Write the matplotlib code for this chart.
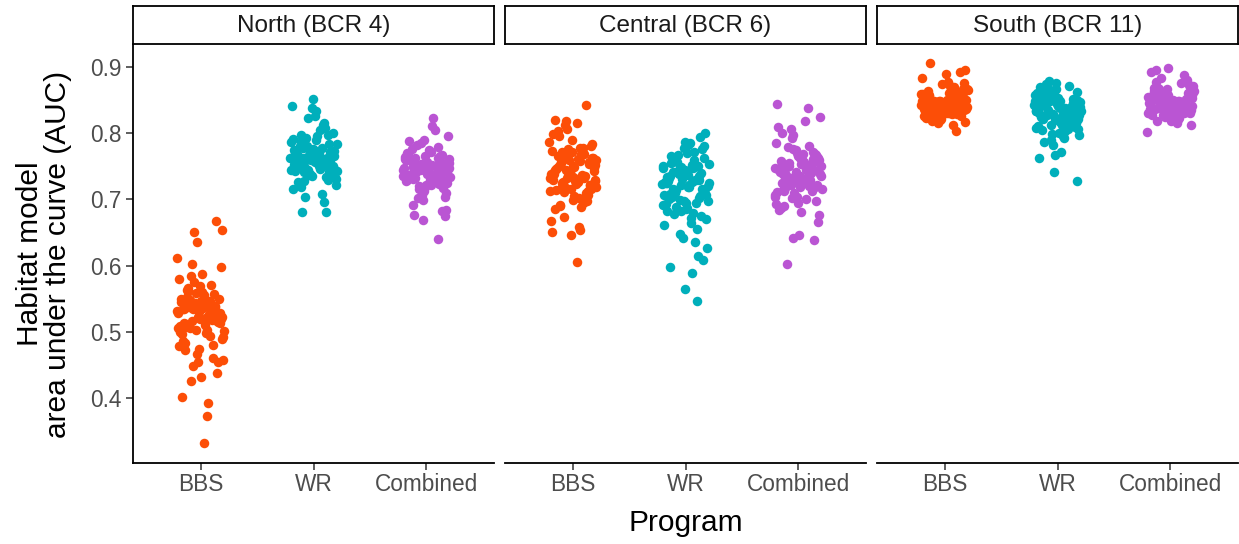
import matplotlib
matplotlib.use("Agg")
import matplotlib.pyplot as plt
import numpy as np

plt.rcParams['font.family'] = ['Liberation Sans', 'DejaVu Sans']

regions = ["North (BCR 4)", "Central (BCR 6)", "South (BCR 11)"]
programs = ["BBS", "WR", "Combined"]
colors = {"BBS": "#FC4E07", "WR": "#00AFBB", "Combined": "#BA55D3"}
yticks = [0.4, 0.5, 0.6, 0.7, 0.8, 0.9]

north_bbs = [0.532, 0.498, 0.561, 0.517, 0.474, 0.545, 0.528, 0.603, 0.489, 0.553, 0.512, 0.538, 0.467, 0.579, 0.524, 0.506, 0.549, 0.431, 0.535, 0.518,
             0.651, 0.492, 0.541, 0.563, 0.527, 0.455, 0.509, 0.547, 0.584, 0.519, 0.536, 0.483, 0.557, 0.502, 0.529, 0.373, 0.544, 0.515, 0.569, 0.496,
             0.531, 0.448, 0.522, 0.555, 0.507, 0.539, 0.635, 0.478, 0.526, 0.548, 0.513, 0.587, 0.534, 0.461, 0.543, 0.501, 0.521, 0.566, 0.437, 0.530,
             0.550, 0.494, 0.516, 0.598, 0.540, 0.472, 0.525, 0.558, 0.505, 0.392, 0.537, 0.520, 0.546, 0.486, 0.533, 0.575, 0.457, 0.511, 0.552, 0.667,
             0.523, 0.499, 0.542, 0.426, 0.528, 0.560, 0.514, 0.480, 0.537, 0.612, 0.503, 0.548, 0.454, 0.520, 0.401, 0.571, 0.535, 0.654, 0.332, 0.510]
north_wr = [0.765, 0.752, 0.781, 0.743, 0.770, 0.798, 0.759, 0.736, 0.774, 0.812, 0.748, 0.766, 0.789, 0.727, 0.757, 0.776, 0.744, 0.805, 0.762, 0.739,
            0.851, 0.771, 0.754, 0.793, 0.731, 0.768, 0.747, 0.784, 0.760, 0.716, 0.777, 0.742, 0.801, 0.756, 0.769, 0.734, 0.823, 0.763, 0.750, 0.786,
            0.740, 0.772, 0.758, 0.696, 0.779, 0.745, 0.795, 0.761, 0.730, 0.767, 0.841, 0.753, 0.783, 0.738, 0.774, 0.749, 0.808, 0.764, 0.722, 0.757,
            0.780, 0.741, 0.769, 0.791, 0.751, 0.728, 0.773, 0.833, 0.755, 0.762, 0.737, 0.787, 0.746, 0.681, 0.766, 0.776, 0.743, 0.815, 0.759, 0.733,
            0.770, 0.754, 0.797, 0.739, 0.763, 0.708, 0.778, 0.750, 0.826, 0.758, 0.681, 0.745, 0.784, 0.765, 0.719, 0.772, 0.838, 0.752, 0.761, 0.704]
north_comb = [0.742, 0.728, 0.756, 0.735, 0.763, 0.719, 0.748, 0.771, 0.731, 0.745, 0.712, 0.759, 0.738, 0.782, 0.724, 0.750, 0.737, 0.766, 0.706, 0.744,
              0.823, 0.733, 0.753, 0.721, 0.769, 0.740, 0.715, 0.757, 0.730, 0.776, 0.746, 0.699, 0.761, 0.727, 0.749, 0.684, 0.739, 0.788, 0.723, 0.754,
              0.734, 0.811, 0.744, 0.717, 0.765, 0.729, 0.751, 0.702, 0.741, 0.774, 0.736, 0.758, 0.713, 0.747, 0.726, 0.762, 0.675, 0.743, 0.732, 0.779,
              0.720, 0.755, 0.738, 0.692, 0.767, 0.745, 0.728, 0.805, 0.750, 0.709, 0.740, 0.760, 0.724, 0.785, 0.735, 0.752, 0.677, 0.742, 0.718, 0.770,
              0.731, 0.748, 0.795, 0.725, 0.757, 0.739, 0.669, 0.764, 0.733, 0.746, 0.704, 0.753, 0.737, 0.640, 0.744, 0.761, 0.722, 0.749, 0.683, 0.790]
central_bbs = [0.736, 0.712, 0.758, 0.724, 0.781, 0.699, 0.745, 0.768, 0.717, 0.752, 0.731, 0.795, 0.706, 0.741, 0.773, 0.688, 0.727, 0.762, 0.749, 0.714,
               0.843, 0.733, 0.786, 0.702, 0.755, 0.721, 0.771, 0.738, 0.694, 0.812, 0.747, 0.729, 0.765, 0.709, 0.739, 0.667, 0.778, 0.719, 0.753, 0.734,
               0.820, 0.701, 0.744, 0.760, 0.726, 0.690, 0.756, 0.716, 0.799, 0.737, 0.673, 0.763, 0.728, 0.748, 0.710, 0.776, 0.732, 0.659, 0.757, 0.722,
               0.790, 0.742, 0.696, 0.766, 0.730, 0.815, 0.751, 0.713, 0.740, 0.650, 0.769, 0.725, 0.784, 0.705, 0.746, 0.735, 0.807, 0.718, 0.761, 0.692,
               0.754, 0.646, 0.730, 0.777, 0.711, 0.743, 0.723, 0.803, 0.698, 0.759, 0.738, 0.654, 0.772, 0.715, 0.750, 0.685, 0.733, 0.819, 0.728, 0.606]
central_wr = [0.718, 0.735, 0.702, 0.749, 0.691, 0.727, 0.761, 0.710, 0.744, 0.683, 0.730, 0.767, 0.697, 0.721, 0.755, 0.675, 0.739, 0.706, 0.772, 0.714,
              0.801, 0.687, 0.733, 0.751, 0.699, 0.725, 0.664, 0.742, 0.716, 0.778, 0.693, 0.729, 0.757, 0.670, 0.737, 0.708, 0.794, 0.722, 0.748, 0.680,
              0.712, 0.763, 0.695, 0.732, 0.656, 0.745, 0.720, 0.785, 0.703, 0.740, 0.641, 0.726, 0.759, 0.689, 0.716, 0.770, 0.700, 0.736, 0.648, 0.723,
              0.752, 0.678, 0.711, 0.787, 0.734, 0.694, 0.743, 0.626, 0.719, 0.765, 0.705, 0.731, 0.661, 0.747, 0.709, 0.780, 0.686, 0.728, 0.615, 0.738,
              0.754, 0.672, 0.715, 0.776, 0.698, 0.724, 0.636, 0.741, 0.707, 0.782, 0.598, 0.730, 0.682, 0.750, 0.589, 0.713, 0.609, 0.565, 0.724, 0.547]
central_comb = [0.748, 0.733, 0.762, 0.719, 0.755, 0.741, 0.776, 0.707, 0.752, 0.728, 0.767, 0.694, 0.745, 0.781, 0.722, 0.739, 0.758, 0.713, 0.771, 0.736,
                0.844, 0.700, 0.750, 0.764, 0.726, 0.687, 0.743, 0.792, 0.716, 0.757, 0.731, 0.769, 0.703, 0.746, 0.838, 0.724, 0.760, 0.681, 0.738, 0.754,
                0.710, 0.785, 0.729, 0.749, 0.697, 0.766, 0.742, 0.720, 0.806, 0.735, 0.759, 0.690, 0.744, 0.774, 0.711, 0.732, 0.751, 0.666, 0.763, 0.725,
                0.740, 0.797, 0.704, 0.756, 0.737, 0.719, 0.770, 0.684, 0.747, 0.727, 0.825, 0.753, 0.714, 0.761, 0.734, 0.693, 0.744, 0.779, 0.721, 0.646,
                0.758, 0.730, 0.702, 0.750, 0.768, 0.717, 0.639, 0.742, 0.810, 0.726, 0.755, 0.676, 0.736, 0.800, 0.712, 0.642, 0.748, 0.819, 0.602, 0.760]
south_bbs = [0.846, 0.832, 0.858, 0.840, 0.825, 0.851, 0.837, 0.864, 0.829, 0.848, 0.842, 0.871, 0.818, 0.855, 0.835, 0.844, 0.861, 0.827, 0.850, 0.838,
             0.906, 0.845, 0.822, 0.857, 0.834, 0.849, 0.866, 0.830, 0.843, 0.853, 0.815, 0.839, 0.860, 0.847, 0.826, 0.874, 0.836, 0.852, 0.841, 0.895,
             0.831, 0.856, 0.844, 0.820, 0.849, 0.868, 0.833, 0.854, 0.840, 0.823, 0.862, 0.845, 0.837, 0.878, 0.828, 0.851, 0.842, 0.859, 0.812, 0.847,
             0.835, 0.889, 0.852, 0.830, 0.843, 0.865, 0.839, 0.824, 0.855, 0.846, 0.833, 0.870, 0.841, 0.817, 0.850, 0.857, 0.836, 0.848, 0.883, 0.829,
             0.845, 0.861, 0.838, 0.853, 0.803, 0.842, 0.867, 0.831, 0.849, 0.892, 0.844, 0.826, 0.856, 0.839, 0.876, 0.847, 0.834, 0.852, 0.821, 0.859]
south_wr = [0.832, 0.815, 0.847, 0.823, 0.856, 0.808, 0.838, 0.827, 0.862, 0.801, 0.843, 0.819, 0.851, 0.834, 0.796, 0.841, 0.825, 0.867, 0.811, 0.836,
            0.879, 0.821, 0.848, 0.805, 0.839, 0.829, 0.858, 0.793, 0.844, 0.817, 0.853, 0.830, 0.872, 0.812, 0.840, 0.826, 0.787, 0.846, 0.822, 0.860,
            0.809, 0.835, 0.850, 0.818, 0.864, 0.831, 0.799, 0.842, 0.824, 0.855, 0.814, 0.876, 0.837, 0.806, 0.849, 0.828, 0.772, 0.845, 0.820, 0.859,
            0.833, 0.803, 0.852, 0.816, 0.841, 0.870, 0.826, 0.790, 0.847, 0.813, 0.857, 0.835, 0.767, 0.843, 0.823, 0.865, 0.807, 0.838, 0.854, 0.819,
            0.782, 0.848, 0.830, 0.874, 0.810, 0.844, 0.762, 0.827, 0.861, 0.798, 0.839, 0.821, 0.851, 0.741, 0.834, 0.815, 0.868, 0.728, 0.842, 0.825]
south_comb = [0.847, 0.833, 0.859, 0.841, 0.826, 0.852, 0.838, 0.866, 0.830, 0.849, 0.843, 0.873, 0.819, 0.856, 0.836, 0.845, 0.862, 0.828, 0.851, 0.839,
              0.898, 0.846, 0.823, 0.858, 0.835, 0.850, 0.868, 0.831, 0.844, 0.854, 0.816, 0.840, 0.861, 0.848, 0.827, 0.876, 0.837, 0.853, 0.842, 0.895,
              0.832, 0.857, 0.845, 0.821, 0.850, 0.870, 0.834, 0.855, 0.841, 0.824, 0.864, 0.846, 0.838, 0.880, 0.829, 0.852, 0.843, 0.860, 0.813, 0.848,
              0.836, 0.888, 0.853, 0.831, 0.844, 0.867, 0.840, 0.825, 0.856, 0.847, 0.834, 0.871, 0.842, 0.818, 0.851, 0.858, 0.837, 0.849, 0.884, 0.830,
              0.846, 0.863, 0.839, 0.854, 0.802, 0.843, 0.869, 0.832, 0.850, 0.893, 0.845, 0.827, 0.857, 0.840, 0.877, 0.848, 0.835, 0.853, 0.822, 0.860]

data = {
    "North (BCR 4)": {"BBS": north_bbs, "WR": north_wr, "Combined": north_comb},
    "Central (BCR 6)": {"BBS": central_bbs, "WR": central_wr, "Combined": central_comb},
    "South (BCR 11)": {"BBS": south_bbs, "WR": south_wr, "Combined": south_comb},
}

W, H = 1239, 544
fig = plt.figure(figsize=(W / 100, H / 100), dpi=100)


def rect(x0, x1, y0, y1):
    return [x0 / W, 1 - y1 / H, (x1 - x0) / W, (y1 - y0) / H]


panel_x = [(133, 494), (505, 866), (877, 1238)]
ptop, pbot = 45, 463
stop = 6
jit_half = 0.21
tick_col = "#4D4D4D"

for pi, reg in enumerate(regions):
    x0, x1 = panel_x[pi]
    ax = fig.add_axes(rect(x0, x1, ptop, pbot))
    for gi, prog in enumerate(programs):
        vals = np.asarray(data[reg][prog])
        n = len(vals)
        k = np.arange(n)
        offs = ((k * 0.6180339887 + 0.137 * (gi + 3 * pi)) % 1.0 - 0.5) * 2 * jit_half
        ax.scatter(gi + offs, vals, s=47, color=colors[prog], linewidths=0, zorder=3)
    ax.set_xlim(-0.6, 2.6)
    ax.set_ylim(0.3018, 0.9332)
    ax.set_xticks(range(3))
    ax.set_xticklabels(programs, fontsize=16.3, color=tick_col)
    ax.tick_params(axis="x", length=5, width=1.1, color="#333333", pad=2)
    for s in ["top", "right"]:
        ax.spines[s].set_visible(False)
    ax.spines["bottom"].set_linewidth(1.3)
    if pi == 0:
        ax.set_yticks(yticks)
        ax.set_yticklabels([f"{t:.1f}" for t in yticks], fontsize=16.3, color=tick_col)
        ax.tick_params(axis="y", length=5, width=1.1, color="#333333", pad=3)
        ax.spines["left"].set_linewidth(1.3)
    else:
        ax.set_yticks([])
        ax.spines["left"].set_visible(False)
    sax = fig.add_axes(rect(x0, x1, stop, ptop - 1))
    sax.set_xticks([])
    sax.set_yticks([])
    for s in sax.spines.values():
        s.set_linewidth(1.3)
        s.set_color("black")
    sax.text(0.5, 0.47, reg, ha="center", va="center", fontsize=17.5, color="#1A1A1A",
             transform=sax.transAxes)

fig.text((133 + 1238) / 2 / W, 1 - 523 / H, "Program", ha="center", va="center", fontsize=21.5)
fig.text(44 / W, 1 - 254 / H, "Habitat model\narea under the curve (AUC)", ha="center", va="center",
         rotation=90, fontsize=21.5, linespacing=1.0)

fig.savefig("out.png", dpi=100)
